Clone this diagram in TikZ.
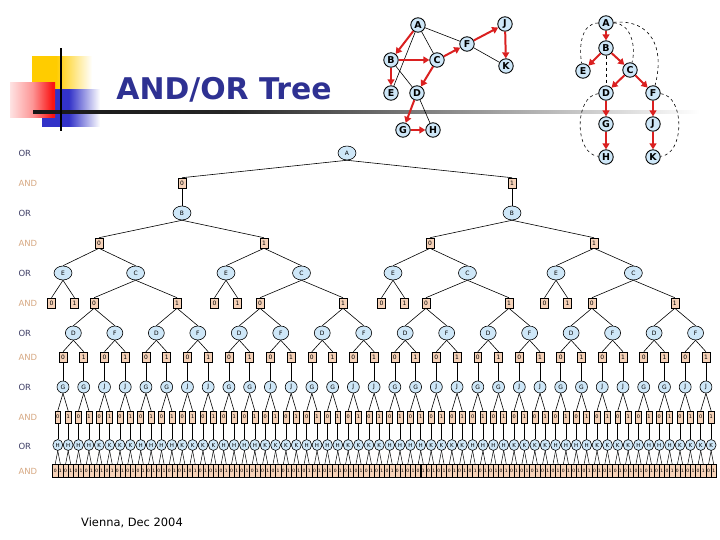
\documentclass[tikz,border=0pt]{standalone}
\usepackage{fontspec}
\setmainfont{DejaVu Sans}
\usepackage{xcolor}
\usetikzlibrary{arrows.meta, shapes.geometric}

\definecolor{orfill}{RGB}{206,231,248}
\definecolor{andfill}{RGB}{246,210,184}
\definecolor{orlabel}{RGB}{60,60,100}
\definecolor{andlabel}{RGB}{214,168,130}
\definecolor{arrred}{RGB}{218,32,32}
\definecolor{titleblue}{RGB}{46,49,146}
\definecolor{logoyellow}{RGB}{255,204,0}
\definecolor{logored}{RGB}{250,20,20}
\definecolor{logoblue}{RGB}{50,50,200}

\pgfdeclarehorizontalshading{yellowfade}{100bp}{color(0bp)=(logoyellow); color(45bp)=(logoyellow); color(75bp)=(white); color(100bp)=(white)}
\pgfdeclarehorizontalshading{bluefade}{100bp}{color(0bp)=(logoblue); color(48bp)=(logoblue); color(75bp)=(white); color(100bp)=(white)}
\pgfdeclarehorizontalshading{redfade}{100bp}{color(0bp)=(white); color(25bp)=(white!88!logored); color(50bp)=(white!55!logored); color(72bp)=(logored); color(100bp)=(logored)}
\pgfdeclarehorizontalshading{rulefade}{100bp}{color(0bp)=(black); color(40bp)=(black!85); color(75bp)=(white); color(100bp)=(white)}

\begin{document}
\begin{tikzpicture}[x=1bp, y=-1bp,
  ornode/.style={ellipse, draw, fill=orfill, line width=0.6pt, inner sep=0pt,
    minimum width=18pt, minimum height=14pt, font=\fontsize{6}{6}\selectfont},
  dfnode/.style={ornode, minimum width=16pt, minimum height=14pt},
  gjnode/.style={ornode, minimum width=12pt, minimum height=12pt},
  hknode/.style={ornode, minimum width=10pt, minimum height=11pt, font=\fontsize{5.5}{5.5}\selectfont},
  andbox/.style={rectangle, draw, fill=andfill, line width=0.6pt, inner sep=0pt,
    minimum width=8pt, minimum height=10pt, font=\fontsize{6}{6}\selectfont},
  thinbox/.style={andbox, minimum width=6pt, minimum height=12pt, font=\fontsize{5}{5}\selectfont},
  leafbox/.style={andbox, minimum width=5.2pt, minimum height=13pt, line width=0.5pt, font=\fontsize{4.5}{4.5}\selectfont},
  edge/.style={line width=0.6pt},
  rowor/.style={anchor=west, text=orlabel, font=\fontsize{8.5}{8.5}\selectfont},
  rowand/.style={anchor=west, text=andlabel, font=\fontsize{8.5}{8.5}\selectfont},
  gnode/.style={circle, draw, fill=orfill, line width=0.9pt, inner sep=0pt,
    minimum size=14.5pt, font=\bfseries\fontsize{9.5}{9.5}\selectfont},
  redarr/.style={draw=arrred, line width=2pt, -{Triangle[length=6pt,width=7pt]}},
  backedge/.style={dashed, line width=0.6pt}]
\useasboundingbox (0,0) rectangle (720,540);

% ---- logo and title ----
\shade[shading=yellowfade] (32,57) rectangle (92,97);
\shade[shading=bluefade] (42,90) rectangle (100,127);
\shade[shading=redfade] (10,83) rectangle (55,118);
\shade[shading=rulefade] (33,111) rectangle (700,113.2);
\fill (60,48) rectangle (62.2,131);
\node[anchor=base, text=titleblue, font=\bfseries\fontsize{30}{30}\selectfont] (title) at (224,100) {AND/OR Tree};

% ---- graph ----
\node[gnode] (lA) at (418,25) {A};
\node[gnode] (lB) at (391,60) {B};
\node[gnode] (lC) at (437,60) {C};
\node[gnode] (lE) at (391,93) {E};
\node[gnode] (lD) at (417,93) {D};
\node[gnode] (lF) at (467,44) {F};
\node[gnode] (lJ) at (505,24) {J};
\node[gnode] (lK) at (506,66) {K};
\node[gnode] (lG) at (403,130) {G};
\node[gnode] (lH) at (433,130) {H};
\foreach \a/\b in {lA/lC, lA/lE, lA/lF, lB/lD, lD/lH, lF/lK}
  \draw[line width=0.6pt] (\a) -- (\b);
\foreach \a/\b in {lA/lB, lB/lE, lB/lC, lC/lF, lF/lJ, lJ/lK, lC/lD, lD/lG, lG/lH}
  \draw[redarr] (\a) -- (\b);

% ---- DFS tree ----
\node[gnode] (rA) at (606,23) {A};
\node[gnode] (rB) at (606,48) {B};
\node[gnode] (rE) at (583,71) {E};
\node[gnode] (rC) at (630,70) {C};
\node[gnode] (rD) at (606,93) {D};
\node[gnode] (rF) at (653,93) {F};
\node[gnode] (rG) at (606,124) {G};
\node[gnode] (rJ) at (653,124) {J};
\node[gnode] (rH) at (606,157) {H};
\node[gnode] (rK) at (653,157) {K};
\draw[backedge] (rA) to[out=180, in=100] (rE);
\draw[backedge] (rA) to[out=0, in=75] (rC);
\draw[backedge] (rA) to[out=5, in=75, looseness=1.3] (rF);
\draw[backedge] (rB) -- (rD);
\draw[backedge] (rD) to[out=185, in=175] (rH);
\draw[backedge] (rF) to[out=-5, in=5] (rK);
\foreach \a/\b in {rA/rB, rB/rE, rB/rC, rC/rD, rC/rF, rD/rG, rG/rH, rF/rJ, rJ/rK}
  \draw[redarr] (\a) -- (\b);

% ---- row labels ----
\foreach \y in {153,213,273,333,387,446}
  \node[rowor] (or-\y) at (15,\y) {OR};
\foreach \y in {183,243,303,357,417,471}
  \node[rowand] (and-\y) at (15,\y) {AND};

% ---- AND/OR tree ----
\node[ornode] (o1-0) at (347,153) {A};
\foreach \x [count=\i from 0] in {182,512} {
  \node[andbox] (n1-\i) at (\x,183) {\i};
  \node[ornode] (o2-\i) at (\x,213) {B};
  \draw[edge] (o1-0.south) -- (n1-\i.north);
  \draw[edge] (n1-\i.south) -- (o2-\i.north);
}
\foreach \x [count=\i from 0] in {99,264,430,594} {
  \pgfmathtruncatemacro\dg{mod(\i,2)}
  \pgfmathtruncatemacro\pidx{div(\i,2)}
  \node[andbox] (n2-\i) at (\x,243) {\dg};
  \draw[edge] (o2-\pidx.south) -- (n2-\i.north);
}
% E leaves and C
\foreach \x [count=\i from 0] in {63,226,393,556} {
  \pgfmathsetmacro\cx{135.6+165.92*\i}
  \node[ornode] (e-\i) at (\x,273) {E};
  \node[ornode] (c-\i) at (\cx,273) {C};
  \draw[edge] (n2-\i.south) -- (e-\i.north);
  \draw[edge] (n2-\i.south) -- (c-\i.north);
  \node[andbox] (ne-\i-0) at ({\x-11.5},303) {0};
  \node[andbox] (ne-\i-1) at ({\x+11.5},303) {1};
  \draw[edge] (e-\i.south) -- (ne-\i-0.north);
  \draw[edge] (e-\i.south) -- (ne-\i-1.north);
}
\foreach \m in {0,...,7} {
  \pgfmathsetmacro\x{94.1+82.96*\m}
  \pgfmathtruncatemacro\dg{mod(\m,2)}
  \pgfmathtruncatemacro\pidx{div(\m,2)}
  \node[andbox] (nc-\m) at (\x,303) {\dg};
  \draw[edge] (c-\pidx.south) -- (nc-\m.north);
}
% D and F
\foreach \n in {0,...,15} {
  \pgfmathsetmacro\x{73.37+41.48*\n}
  \pgfmathtruncatemacro\dg{mod(\n,2)}
  \pgfmathtruncatemacro\pidx{div(\n,2)}
  \node[dfnode] (o4-\n) at (\x,333) {\ifnum\dg=0 D\else F\fi};
  \draw[edge] (nc-\pidx.south) -- (o4-\n.north);
}
% G and J
\foreach \i in {0,...,31} {
  \pgfmathsetmacro\x{63+20.74*\i}
  \pgfmathtruncatemacro\dg{mod(\i,2)}
  \pgfmathtruncatemacro\pidx{div(\i,2)}
  \pgfmathtruncatemacro\sel{mod(\i,4)}
  \node[andbox] (n4-\i) at (\x,357) {\dg};
  \node[gjnode] (o5-\i) at (\x,387) {\ifnum\sel<2 G\else J\fi};
  \draw[edge] (o4-\pidx.south) -- (n4-\i.north);
  \draw[edge] (n4-\i.south) -- (o5-\i.north);
}
% H and K
\foreach \j in {0,...,63} {
  \pgfmathsetmacro\x{57.8+10.37*\j}
  \pgfmathtruncatemacro\dg{mod(\j,2)}
  \pgfmathtruncatemacro\pidx{div(\j,2)}
  \pgfmathtruncatemacro\sel{mod(\j,8)}
  \node[thinbox] (n5-\j) at (\x,417) {\dg};
  \node[hknode] (o6-\j) at (\x,445) {\ifnum\sel<4 H\else K\fi};
  \draw[edge] (o5-\pidx.south) -- (n5-\j.north);
  \draw[edge] (n5-\j.south) -- (o6-\j.north);
}
% leaves
\foreach \m in {0,...,127} {
  \pgfmathsetmacro\x{55.2+5.185*\m}
  \pgfmathtruncatemacro\dg{mod(\m,2)}
  \pgfmathtruncatemacro\pidx{div(\m,2)}
  \node[leafbox] (n6-\m) at (\x,471) {\dg};
  \draw[line width=0.5pt] (o6-\pidx.south) -- (n6-\m.north);
}

\node[font=\fontsize{11.5}{11.5}\selectfont] (date) at (132,523) {Vienna, Dec 2004};
\end{tikzpicture}
\end{document}
